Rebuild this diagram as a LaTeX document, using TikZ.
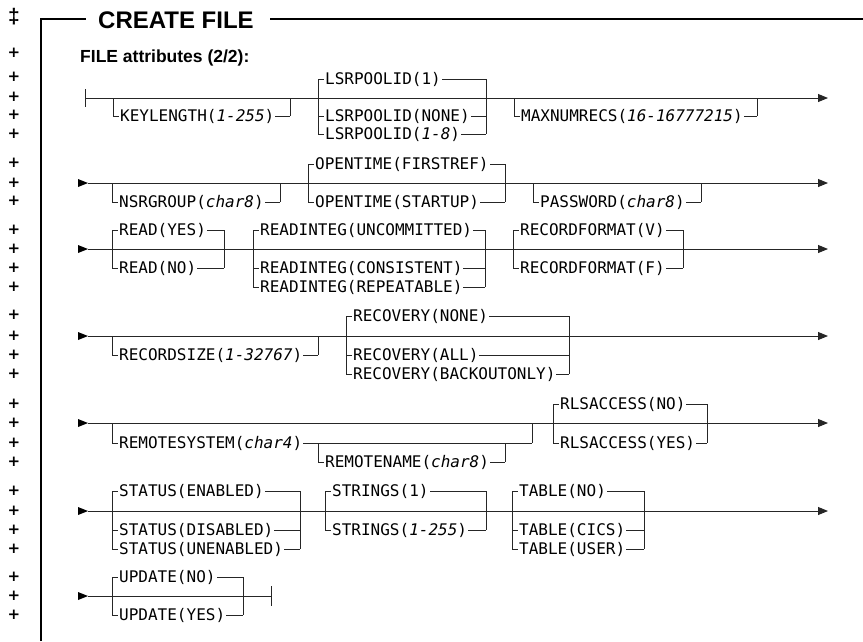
\documentclass[tikz,border=0pt]{standalone}
\usepackage{fontspec}
\setmainfont{Liberation Sans}
\newfontfamily\rrfont{DejaVu Sans Mono}
\newfontfamily\markfont{DejaVu Sans}
\usetikzlibrary{arrows.meta}
\tikzset{
  rail/.style={line width=0.9pt, draw=black!85},
  frameline/.style={line width=1.5pt, draw=black},
  opt/.style={font=\rrfont\fontsize{16}{17}\selectfont, fill=white, inner xsep=1pt, inner ysep=1pt, anchor=base west, yshift=-5.7pt, text=black},
  pm/.style={font=\markfont\bfseries\fontsize{15}{15}\selectfont, inner sep=0pt, anchor=center},
  ddmark/.style={font=\bfseries\fontsize{21}{21}\selectfont, inner sep=0pt, anchor=center},
  endarrow/.style={-{Triangle[length=10pt,width=8pt]}},
  starttri/.style={fill=black},
}
\newcommand\rrbranch[5]{%
  \coordinate (#1-l) at (#2,#4);
  \coordinate (#1-r) at (#3,#4);
  \draw[rail] (#1-l) -- (#1-r);
  \node[opt] (#1) at ([xshift=6pt]#1-l) {#5};
}
\newcommand\rrvert[4]{%
  \coordinate (#1-t) at (#2,#3);
  \coordinate (#1-b) at (#2,#4);
  \draw[rail] (#1-t) -- (#1-b);
}
\newcommand\rrstart[2]{%
  \coordinate (#1) at (88,#2);
  \fill[starttri] (78,#2-4) -- (88,#2) -- (78,#2+4) -- cycle;
}
\begin{document}
\begin{tikzpicture}[x=1pt,y=-1pt]
\useasboundingbox (0,0) rectangle (863,641);
% frame and title
\coordinate (fb) at (41,641);
\coordinate (ftl) at (41,19);
\coordinate (ft1) at (86,19);
\coordinate (ft2) at (270,19);
\coordinate (ftr) at (863,19);
\draw[frameline] (fb) -- (ftl) -- (ft1);
\draw[frameline] (ft2) -- (ftr);
\node[font=\bfseries\fontsize{24}{24}\selectfont, inner sep=0pt, anchor=base west] (title) at (98,28) {CREATE FILE};
\node[font=\bfseries\fontsize{17.5}{18}\selectfont, inner sep=0pt, anchor=base west] (sub) at (80,62) {FILE attributes (2/2):};
% margin marks
\node[ddmark] (dd) at (14,17) {‡};
\foreach \yy [count=\i] in {53,77,97,115,134,163,183,201,230,249,268,287,315,336,355,374,404,423,443,462,491,511,530,549,577,596,615}
  \node[pm] (plus\i) at (14,\yy) {+};

% ---------- Row 1 ----------
\coordinate (r1s) at (85,98);
\coordinate (r1e) at (828,98);
\coordinate (r1bt) at (85,89);
\coordinate (r1bb) at (85,107);
\draw[rail] (r1bt) -- (r1bb);
\draw[rail,endarrow] (r1s) -- (r1e);
\rrvert{kv1}{113}{98}{116}
\rrvert{kv2}{290}{98}{116}
\rrbranch{keylen}{113}{290}{116}{KEYLENGTH(\textit{1-255})}
\rrvert{lv1}{318}{79}{134}
\rrvert{lv2}{486}{79}{134}
\rrbranch{lsr1}{318}{486}{79}{LSRPOOLID(1)}
\rrbranch{lsr2}{318}{486}{116}{LSRPOOLID(NONE)}
\rrbranch{lsr3}{318}{486}{134}{LSRPOOLID(\textit{1-8})}
\rrvert{mv1}{514}{98}{116}
\rrvert{mv2}{757}{98}{116}
\rrbranch{maxn}{514}{757}{116}{MAXNUMRECS(\textit{16-16777215})}

% ---------- Row 2 ----------
\rrstart{r2s}{183}
\coordinate (r2e) at (828,183);
\draw[rail,endarrow] (r2s) -- (r2e);
\rrvert{nv1}{112}{183}{202}
\rrvert{nv2}{280}{183}{202}
\rrbranch{nsr}{112}{280}{202}{NSRGROUP(\textit{char8})}
\rrvert{ov1}{308}{164}{202}
\rrvert{ov2}{505}{164}{202}
\rrbranch{open1}{308}{505}{164}{OPENTIME(FIRSTREF)}
\rrbranch{open2}{308}{505}{202}{OPENTIME(STARTUP)}
\rrvert{pv1}{533}{183}{202}
\rrvert{pv2}{701}{183}{202}
\rrbranch{pass}{533}{701}{202}{PASSWORD(\textit{char8})}

% ---------- Row 3 ----------
\rrstart{r3s}{249}
\coordinate (r3e) at (828,249);
\draw[rail,endarrow] (r3s) -- (r3e);
\rrvert{rv1}{112}{230}{268}
\rrvert{rv2}{224}{230}{268}
\rrbranch{read1}{112}{224}{230}{READ(YES)}
\rrbranch{read2}{112}{224}{268}{READ(NO)}
\rrvert{iv1}{253}{230}{287}
\rrvert{iv2}{485}{230}{287}
\rrbranch{ri1}{253}{485}{230}{READINTEG(UNCOMMITTED)}
\rrbranch{ri2}{253}{485}{268}{READINTEG(CONSISTENT)}
\rrbranch{ri3}{253}{485}{287}{READINTEG(REPEATABLE)}
\rrvert{fv1}{513}{230}{268}
\rrvert{fv2}{683}{230}{268}
\rrbranch{rf1}{513}{683}{230}{RECORDFORMAT(V)}
\rrbranch{rf2}{513}{683}{268}{RECORDFORMAT(F)}

% ---------- Row 4 ----------
\rrstart{r4s}{336}
\coordinate (r4e) at (828,336);
\draw[rail,endarrow] (r4s) -- (r4e);
\rrvert{sv1}{112}{336}{355}
\rrvert{sv2}{318}{336}{355}
\rrbranch{rsize}{112}{318}{355}{RECORDSIZE(\textit{1-32767})}
\rrvert{cv1}{346}{316}{374}
\rrvert{cv2}{569}{316}{374}
\rrbranch{rec1}{346}{569}{316}{RECOVERY(NONE)}
\rrbranch{rec2}{346}{569}{355}{RECOVERY(ALL)}
\rrbranch{rec3}{346}{569}{374}{RECOVERY(BACKOUTONLY)}

% ---------- Row 5 ----------
\rrstart{r5s}{423}
\coordinate (r5e) at (828,423);
\draw[rail,endarrow] (r5s) -- (r5e);
\rrvert{ev1}{112}{423}{443}
\rrvert{ev2}{532}{423}{443}
\rrbranch{rsys}{112}{532}{443}{REMOTESYSTEM(\textit{char4})}
\rrvert{nmv1}{318}{443}{462}
\rrvert{nmv2}{505}{443}{462}
\rrbranch{rname}{318}{505}{462}{REMOTENAME(\textit{char8})}
\rrvert{av1}{553}{404}{443}
\rrvert{av2}{707}{404}{443}
\rrbranch{rls1}{553}{707}{404}{RLSACCESS(NO)}
\rrbranch{rls2}{553}{707}{443}{RLSACCESS(YES)}

% ---------- Row 6 ----------
\rrstart{r6s}{511}
\coordinate (r6e) at (828,511);
\draw[rail,endarrow] (r6s) -- (r6e);
\rrvert{tv1}{112}{491}{549}
\rrvert{tv2}{300}{491}{549}
\rrbranch{st1}{112}{300}{491}{STATUS(ENABLED)}
\rrbranch{st2}{112}{300}{530}{STATUS(DISABLED)}
\rrbranch{st3}{112}{300}{549}{STATUS(UNENABLED)}
\rrvert{gv1}{325}{491}{530}
\rrvert{gv2}{486}{491}{530}
\rrbranch{str1}{325}{486}{491}{STRINGS(1)}
\rrbranch{str2}{325}{486}{530}{STRINGS(\textit{1-255})}
\rrvert{bv1}{512}{491}{549}
\rrvert{bv2}{644}{491}{549}
\rrbranch{tab1}{512}{644}{491}{TABLE(NO)}
\rrbranch{tab2}{512}{644}{530}{TABLE(CICS)}
\rrbranch{tab3}{512}{644}{549}{TABLE(USER)}

% ---------- Row 7 ----------
\rrstart{r7s}{596}
\coordinate (r7e) at (271,596);
\draw[rail] (r7s) -- (r7e);
\rrvert{endbar}{271}{586}{606}
\rrvert{uv1}{112}{577}{615}
\rrvert{uv2}{243}{577}{615}
\rrbranch{up1}{112}{243}{577}{UPDATE(NO)}
\rrbranch{up2}{112}{243}{615}{UPDATE(YES)}
\end{tikzpicture}
\end{document}
